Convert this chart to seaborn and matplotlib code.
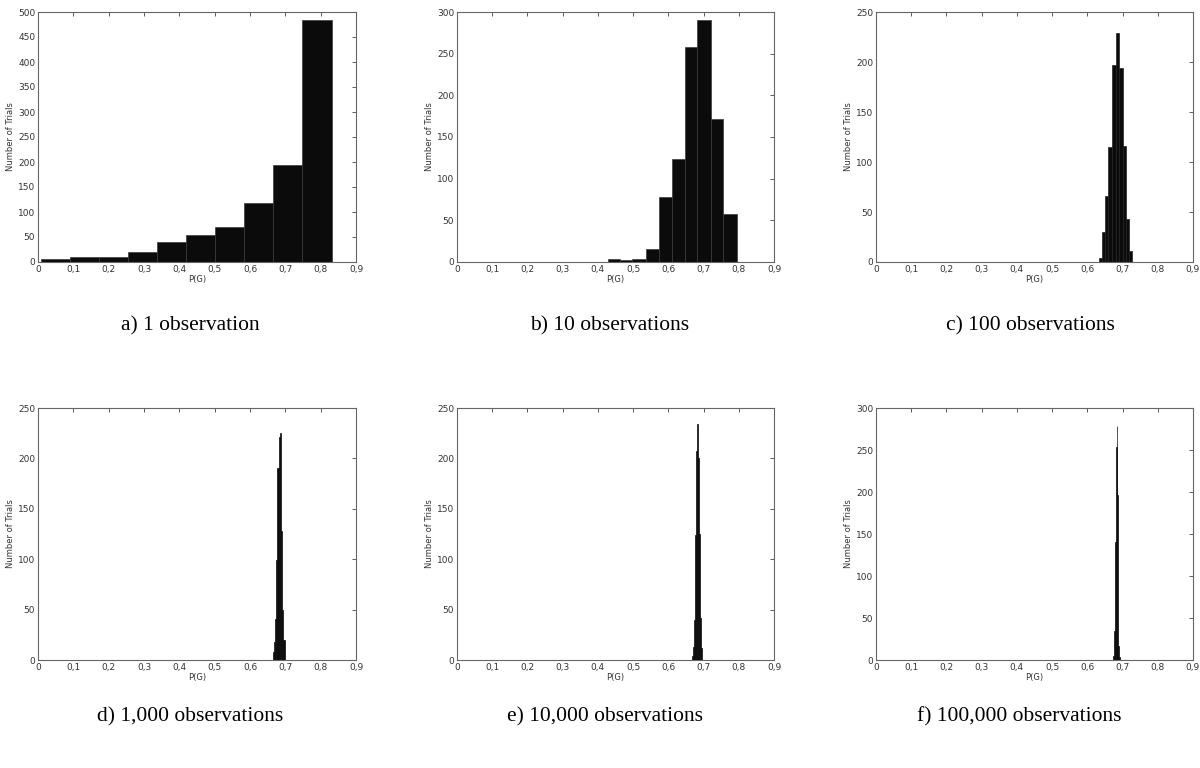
import numpy as np
import matplotlib
matplotlib.use("Agg")
import matplotlib.pyplot as plt
import seaborn as sns

sns.set_style("white")
plt.rcParams["font.family"] = ["DejaVu Sans"]

# ── Data (bin edges and counts per panel) ─────────────────────────────────────
edges_a  = [0.008, 0.090, 0.173, 0.255, 0.337, 0.419, 0.501, 0.584, 0.666, 0.748, 0.831]
counts_a = [5, 10, 10, 20, 40, 53, 69, 117, 193, 485]

edges_b  = [0.430, 0.464, 0.498, 0.537, 0.573, 0.609, 0.646, 0.682, 0.720, 0.755, 0.794]
counts_b = [3, 2, 4, 15, 78, 124, 258, 291, 171, 58]

edges_c  = [0.632, 0.641, 0.650, 0.660, 0.669, 0.680, 0.690, 0.701, 0.711, 0.718, 0.728]
counts_c = [4, 30, 66, 115, 197, 229, 194, 116, 43, 11]

edges_d  = [0.6640, 0.6674, 0.6708, 0.6742, 0.6776, 0.6810, 0.6844, 0.6878, 0.6912, 0.6946, 0.6980]
counts_d = [8, 18, 41, 99, 190, 221, 225, 128, 50, 20]

edges_e  = [0.6670, 0.6698, 0.6726, 0.6754, 0.6782, 0.6810, 0.6838, 0.6866, 0.6894, 0.6922, 0.6950]
counts_e = [4, 13, 40, 124, 207, 234, 200, 125, 42, 12]

edges_f  = [0.6735, 0.6759, 0.6783, 0.6807, 0.6831, 0.6855, 0.6879, 0.6903, 0.6927]
counts_f = [5, 35, 140, 253, 278, 197, 17, 3]

ymax     = [500, 300, 250, 250, 250, 300]
captions = ["a) 1 observation", "b) 10 observations", "c) 100 observations",
            "d) 1,000 observations", "e) 10,000 observations", "f) 100,000 observations"]

xticks      = [0, 0.1, 0.2, 0.3, 0.4, 0.5, 0.6, 0.7, 0.8, 0.9]
xticklabels = ["0", "0,1", "0,2", "0,3", "0,4", "0,5", "0,6", "0,7", "0,8", "0,9"]

panels = [(edges_a, counts_a), (edges_b, counts_b), (edges_c, counts_c),
          (edges_d, counts_d), (edges_e, counts_e), (edges_f, counts_f)]
bar_edge = ["#3a3a3a", "#3a3a3a", "#222222", "#0b0b0b", "#0b0b0b", "#0b0b0b"]

# ── Layout (pixels -> figure fractions) ───────────────────────────────────────
W, H = 1200, 768
lefts   = [38, 457, 876]
widths  = [318, 317, 317]
rows    = [(12, 262), (408, 660)]
cap_x   = [[190, 610, 1030], [190, 605, 1019]]
cap_y   = [326, 717]

fig = plt.figure(figsize=(12, 7.68), dpi=100)
fig.patch.set_facecolor("white")

for i, (edges, counts) in enumerate(panels):
    r, c = divmod(i, 3)
    top, bot = rows[r]
    ax = fig.add_axes([lefts[c] / W, 1 - bot / H, widths[c] / W, (bot - top) / H])
    centers = [(edges[k] + edges[k + 1]) / 2 for k in range(len(counts))]
    sns.histplot(x=centers, weights=counts, bins=edges, ax=ax,
                 color="#0b0b0b", alpha=1, edgecolor=bar_edge[i], linewidth=0.5)
    ax.set_xlim(0, 0.9)
    ax.set_ylim(0, ymax[i])
    ax.set_xticks(xticks)
    ax.set_xticklabels(xticklabels)
    ax.set_yticks(np.arange(0, ymax[i] + 1, 50))
    ax.tick_params(direction="in", length=3, width=0.6, top=True, right=True,
                   labelsize=6.5, colors="#444444", pad=2, labelcolor="#333333")
    ax.set_xlabel("P(G)", fontsize=6, color="#333333", labelpad=1)
    ax.set_ylabel("Number of Trials", fontsize=6, color="#333333", labelpad=2)
    for s in ax.spines.values():
        s.set_color("#666666")
        s.set_linewidth(0.8)
    fig.text(cap_x[r][c] / W, 1 - cap_y[r] / H, captions[i], ha="center", va="center",
             fontsize=15.5, family=["Liberation Serif", "DejaVu Serif"], color="black")

plt.savefig("out.png", dpi=100, facecolor="white")
plt.close()
